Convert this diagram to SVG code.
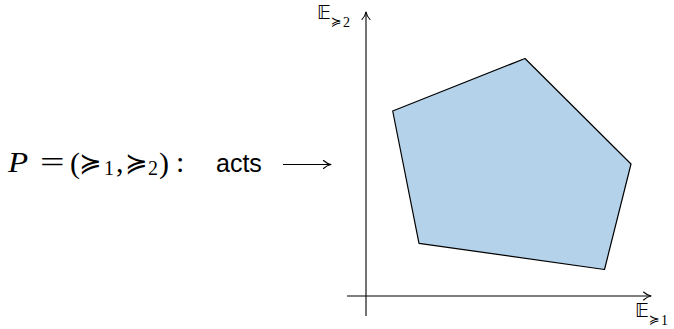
<svg xmlns="http://www.w3.org/2000/svg" width="674" height="329" viewBox="0 0 674 329">
<style>
.ax{stroke:#000;stroke-width:1.1;fill:none}
.m{font-family:"Liberation Serif","DejaVu Serif",serif;fill:#000}
.r{font-family:"DejaVu Sans","DejaVu Serif",sans-serif;fill:#000}
.s{font-family:"Liberation Sans","DejaVu Sans",sans-serif;fill:#000}
.bb{font-family:"DejaVu Sans","DejaVu Serif",serif;fill:#000}
</style>
<defs>
<marker id="ah" viewBox="0 0 10 10" refX="9" refY="5" markerWidth="10" markerHeight="10" markerUnits="userSpaceOnUse" orient="auto">
<path d="M1.5,1 Q5,4.2 9,5 Q5,5.8 1.5,9" fill="none" stroke="#000" stroke-width="1.1" stroke-linecap="round" stroke-linejoin="round"/>
</marker>
</defs>
<g id="connectors">
<line class="ax" x1="366" y1="316" x2="366" y2="12" marker-end="url(#ah)"/>
<line class="ax" x1="347" y1="296" x2="651" y2="296" marker-end="url(#ah)"/>
<line class="ax" x1="283" y1="164.5" x2="331" y2="164.5" marker-end="url(#ah)"/>
</g>
<g id="polygon">
<polygon points="392.7,111 525,58.5 631,164 604.5,269.5 419,243.3" fill="#b4d2ea" stroke="#000" stroke-width="1.2" stroke-linejoin="round"/>
</g>
<g id="label-left">
<text class="m" transform="translate(8,172) scale(1.1,1)" font-size="30" font-style="italic">P</text>
<text class="m" transform="translate(40,172) scale(1.45,1)" font-size="30">=</text>
<text class="m" x="70" y="173" font-size="30">(</text>
<text class="r" x="79" y="172" font-size="27">≽</text>
<text class="m" x="104" y="175" font-size="20">1</text>
<text class="m" x="116" y="172" font-size="30">,</text>
<text class="r" x="125" y="172" font-size="27">≽</text>
<text class="m" x="148" y="175" font-size="20">2</text>
<text class="m" x="159" y="173" font-size="30">)</text>
<text class="m" x="176" y="172" font-size="30">:</text>
<text class="s" x="216" y="172" font-size="25">acts</text>
</g>
<g id="label-y">
<text class="bb" x="317" y="19" font-size="19">𝔼</text>
<text class="r" x="331" y="26" font-size="13">≽</text>
<text class="m" x="343" y="27" font-size="14">2</text>
</g>
<g id="label-x">
<text class="bb" x="635" y="317" font-size="19">𝔼</text>
<text class="r" x="649" y="324" font-size="13">≽</text>
<text class="m" x="661" y="325" font-size="14">1</text>
</g>
</svg>
